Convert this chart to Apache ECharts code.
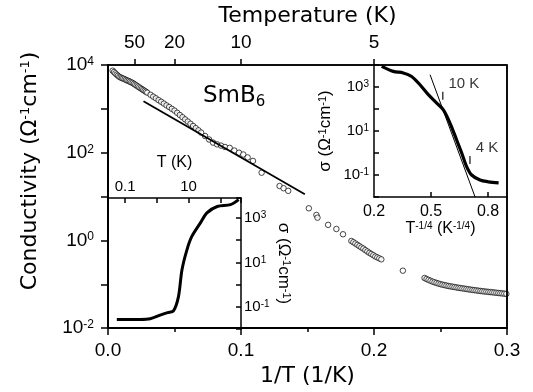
<!DOCTYPE html>
<html><head><meta charset="utf-8">
<script src="https://cdn.jsdelivr.net/npm/echarts@6/dist/echarts.min.js"></script>
<style>html,body{margin:0;padding:0;background:#fff}#c{width:533px;height:392px}</style>
</head><body><div id="c"></div>
<script>
// ---- main plot: conductivity vs 1/T ----
const invT = [0.0035,0.0045,0.0055,0.0065,0.0075,0.0085,0.0095,0.0105,0.0115,0.0125,0.0135,0.0145,0.0155,0.0165,0.0175,0.0185,0.0195,0.0205,0.0215,0.0225,0.0235,0.0245,0.0255,0.0265,0.0275,0.0285,0.0295,
  0.032,0.034,0.036,0.038,0.040,0.042,0.044,0.046,0.048,0.050,0.052,0.054,0.056,0.058,0.060,0.062,0.064,0.066,0.068,0.070,0.073,0.076,0.079,0.082,0.085,0.088,0.0915,0.095,0.0985,0.1017,0.105,0.109,0.1155,0.129,0.132,0.1355,
  0.151,0.1567,0.1575,0.1655,0.1717,0.1767,0.183,0.1845,0.186,0.1875,0.189,0.1905,0.192,0.1935,0.195,0.1965,0.198,0.1995,0.201,0.2025,0.204,0.2055,0.2217,
  0.238,0.2395,0.241,0.2425,0.244,0.2455,0.247,0.2485,0.250,0.2515,0.253,0.2545,0.256,0.2575,0.259,0.2605,0.262,0.2635,0.265,0.2665,0.268,0.2695,0.271,0.2725,0.274,0.2755,0.277,0.2785,0.280,0.2815,0.283,0.2845,0.286,0.2875,0.289,0.2905,0.292,0.2935,0.295,0.2965,0.298,0.2995];
const sigma = [7413,6918,6457,6026,5689,5370,5188,5012,4898,4732,4571,4416,4315,4169,4027,3890,3715,3548,3388,3236,3090,2951,2818,2692,2570,2455,2344,
  2090,1900,1740,1580,1450,1320,1200,1100,1000,912,813,724,646,575,513,457,407,363,324,288,240,200,170,155,145,135,129,112,100,91,78,65,35,17.4,15.5,13.5,
  5.4,3.8,3.3,2.26,1.82,1.38,0.97,0.91,0.85,0.79,0.74,0.69,0.65,0.60,0.56,0.52,0.49,0.46,0.43,0.41,0.39,0.37,0.204,
  0.139,0.1318,0.1259,0.1202,0.1148,0.1109,0.1072,0.1035,0.1005,0.0977,0.0955,0.0933,0.0912,0.0895,0.0879,0.0863,0.0847,0.0832,0.0818,0.0805,0.0793,0.078,0.0767,0.0755,0.0743,0.0733,0.0723,0.0713,0.0703,0.0693,0.0685,0.0678,0.067,0.0662,0.0655,0.0647,0.064,0.0632,0.0625,0.0618,0.0611,0.0604];
const fitInvT = [0.0267, 0.148];
const fitSigma = [1490, 11.3];
const topTemps = [50, 20, 10, 5];
const xTickLabels = [0.0, 0.1, 0.2, 0.3];
const X_MIN = 0, X_MAX = 0.3, Y_MIN = 0.01, Y_MAX = 10000;

// ---- upper-right inset: sigma vs T^-1/4 ----
const insX = [0.2405,0.3016,0.354,0.398,0.442,0.486,0.530,0.565,0.600,0.635,0.662,0.688,0.714,0.758,0.802,0.856];
const insSigma = [8710,5130,4360,3020,1270,447,186,91,22.9,3.9,0.98,0.234,0.1,0.059,0.049,0.044];
const insFitX = [0.495, 0.732];
const insFitSigma = [3630, 0.01];
const insMarkX = [0.562, 0.705];
const insMarkSigma = [400, 0.48];
const insMarkLabels = ['10 K', '4 K'];
const insXLabels = [0.2, 0.5, 0.8];

// ---- lower-left inset: sigma vs T (log-log) ----
const lowT = [0.055,0.3,0.62,1.27,2.2,3.35,4.8,6.2,8.9,12.7,23.4,38,80,210,380];
const lowSigma = [0.027,0.027,0.029,0.042,0.055,0.066,0.28,4.6,37,148,590,1700,3300,4000,6760];
const lowTLabels = [0.1, 10];

const F = 'Liberation Sans, Arial, sans-serif';
const FT = 'DejaVu Sans, Liberation Sans, sans-serif';
const zip = (a, b) => a.map((v, i) => [v, b[i]]);
const expOf = v => Math.round(Math.log10(v));
const supRich = (fs, ss, fam) => ({
  b: {fontSize: fs, fontFamily: fam || F, color: '#000'},
  s: {fontSize: ss, fontFamily: fam || F, color: '#000', verticalAlign: 'top', lineHeight: ss}
});
const blk = () => ({color: '#000', width: 1.5});
const line = w => ({show: true, onZero: false, lineStyle: {color: '#000', width: w}});

const chart = echarts.init(document.getElementById('c'));
chart.setOption({
  animation: false,
  grid: [
    {left: 108, top: 65, width: 399, height: 264},
    {left: 374, top: 65, width: 133, height: 132},
    {left: 108, top: 198, width: 133, height: 131}
  ],
  xAxis: [
    {gridIndex: 0, type: 'value', min: X_MIN, max: X_MAX, interval: 0.1, position: 'bottom', z: 10,
     axisLine: line(2),
     axisTick: {show: true, inside: false, length: 7, lineStyle: blk()},
     minorTick: {show: true, splitNumber: 2, length: 4, lineStyle: blk()},
     splitLine: {show: false},
     axisLabel: {customValues: xTickLabels, formatter: v => v.toFixed(1), fontSize: 19, fontFamily: F, color: '#000', margin: 13},
     name: '1/T (1/K)', nameLocation: 'middle', nameGap: 31,
     nameTextStyle: {fontSize: 22, fontFamily: FT, color: '#000'}},
    {gridIndex: 0, type: 'value', min: X_MIN, max: X_MAX, position: 'top', z: 10,
     axisLine: line(1.5),
     axisTick: {show: true, inside: false, length: 6, lineStyle: blk(), customValues: topTemps.map(t => 1 / t)},
     splitLine: {show: false},
     axisLabel: {customValues: topTemps.map(t => 1 / t), formatter: v => String(Math.round(1 / v)), fontSize: 19, fontFamily: F, color: '#000', margin: 13},
     name: 'Temperature (K)', nameLocation: 'middle', nameGap: 38,
     nameTextStyle: {fontSize: 22, fontFamily: FT, color: '#000'}},
    {gridIndex: 1, type: 'value', min: 0.2, max: 0.9, position: 'bottom', z: 10,
     axisLine: line(1.5),
     axisTick: {show: true, inside: true, length: 5, lineStyle: blk(), customValues: [0.5, 0.8]},
     splitLine: {show: false},
     axisLabel: {customValues: insXLabels, formatter: v => v.toFixed(1), fontSize: 16, fontFamily: F, color: '#000', margin: 7},
     name: '{b|T}{s|-1/4}{b| (K}{s|-1/4}{b|)}', nameLocation: 'middle', nameGap: 24,
     nameTextStyle: {fontSize: 16, fontFamily: F, color: '#000', rich: supRich(16, 10)}},
    {gridIndex: 2, type: 'log', logBase: 10, min: 0.029, max: 450, position: 'top', z: 10,
     axisLine: line(1.5),
     axisTick: {show: true, inside: true, length: 5, lineStyle: blk()},
     splitLine: {show: false},
     axisLabel: {formatter: v => (lowTLabels.some(t => Math.abs(t - v) < 1e-9) ? String(v) : ''), fontSize: 15, fontFamily: F, color: '#000', margin: 4},
     name: 'T (K)', nameLocation: 'middle', nameGap: 27,
     nameTextStyle: {fontSize: 16, fontFamily: F, color: '#000'}}
  ],
  yAxis: [
    {gridIndex: 0, type: 'log', logBase: 10, min: Y_MIN, max: Y_MAX, position: 'left', z: 10,
     axisLine: line(2),
     axisTick: {show: true, inside: false, length: 7, lineStyle: blk()},
     splitLine: {show: false},
     axisLabel: {formatter: v => { const e = expOf(v); return e % 2 === 0 ? '{b|10}{s|' + e + '}' : ''; },
       margin: 14, rich: supRich(19, 12)}},
    {gridIndex: 1, type: 'log', logBase: 10, min: 0.01, max: 10000, position: 'left', z: 10,
     axisLine: line(1.5),
     axisTick: {show: true, inside: true, length: 5, lineStyle: blk()},
     splitLine: {show: false},
     axisLabel: {formatter: v => { const e = expOf(v); return Math.abs(e % 2) === 1 ? '{b|10}{s|' + e + '}' : ''; },
       margin: 5, rich: supRich(15, 10)},
     name: '{b|σ (Ω}{s|-1}{b|cm}{s|-1}{b|)}', nameLocation: 'middle', nameGap: 40, nameRotate: 90,
     nameTextStyle: {rich: supRich(17, 11)}},
    {gridIndex: 2, type: 'log', logBase: 10, min: 0.01, max: 8000, position: 'right', z: 10,
     axisLine: line(1.5),
     axisTick: {show: true, inside: true, length: 5, lineStyle: blk()},
     splitLine: {show: false},
     axisLabel: {formatter: v => { const e = expOf(v); return (Math.abs(e % 2) === 1 && Math.abs(Math.log10(v) - e) < 1e-6) ? '{b|10}{s|' + e + '}' : ''; },
       margin: 3, rich: supRich(15, 10)},
     name: '{b|σ (Ω}{s|-1}{b|cm}{s|-1}{b|)}', nameLocation: 'middle', nameGap: 34, nameRotate: -90,
     nameTextStyle: {rich: supRich(17, 11)}},
    {gridIndex: 0, type: 'value', position: 'right', min: 0, max: 1, z: 10,
     axisLine: line(1.5), axisTick: {show: false}, axisLabel: {show: false}, splitLine: {show: false}}
  ],
  series: [
    {type: 'line', xAxisIndex: 0, yAxisIndex: 0, clip: false, silent: true, showSymbol: false,
     data: [[X_MIN, Y_MIN], [X_MAX, Y_MIN], [X_MAX, Y_MAX], [X_MIN, Y_MAX], [X_MIN, Y_MIN]],
     lineStyle: {color: '#000', width: 1.6}},
    {type: 'scatter', xAxisIndex: 0, yAxisIndex: 0, data: zip(invT, sigma), symbol: 'circle', symbolSize: 5.5,
     itemStyle: {color: '#fff', borderColor: '#000', borderWidth: 0.9}},
    {type: 'line', xAxisIndex: 0, yAxisIndex: 0, data: zip(fitInvT, fitSigma), showSymbol: false,
     lineStyle: {color: '#000', width: 1.8}},
    {type: 'line', xAxisIndex: 2, yAxisIndex: 1, data: zip(insX, insSigma), showSymbol: false, smooth: 0.3,
     lineStyle: {color: '#000', width: 3.2}},
    {type: 'line', xAxisIndex: 2, yAxisIndex: 1, data: zip(insFitX, insFitSigma), showSymbol: false,
     lineStyle: {color: '#000', width: 1}},
    {type: 'scatter', xAxisIndex: 2, yAxisIndex: 1, data: zip(insMarkX, insMarkSigma), symbol: 'rect', symbolSize: [1.4, 8],
     itemStyle: {color: '#000'},
     label: {show: true, position: 'right', offset: [0, -12], formatter: p => insMarkLabels[p.dataIndex],
       fontSize: 15, fontFamily: F, color: '#000'}},
    {type: 'line', xAxisIndex: 3, yAxisIndex: 2, data: zip(lowT, lowSigma), showSymbol: false, smooth: 0.3,
     lineStyle: {color: '#000', width: 3}}
  ],
  graphic: [
    {type: 'text', x: 30, y: 171, rotation: Math.PI / 2,
     style: {text: '{b|Conductivity (Ω}{s|-1}{b|cm}{s|-1}{b|)}', align: 'center', verticalAlign: 'middle',
       rich: supRich(22, 13, FT)}},
    {type: 'text', x: 203, y: 96,
     style: {text: '{b|SmB}{d|6}', align: 'left', verticalAlign: 'middle',
       rich: {b: {fontSize: 23, fontFamily: FT, color: '#000'}, d: {fontSize: 15, fontFamily: FT, color: '#000', padding: [12, 0, 0, 0]}}}}
  ]
});
</script>
</body></html>
